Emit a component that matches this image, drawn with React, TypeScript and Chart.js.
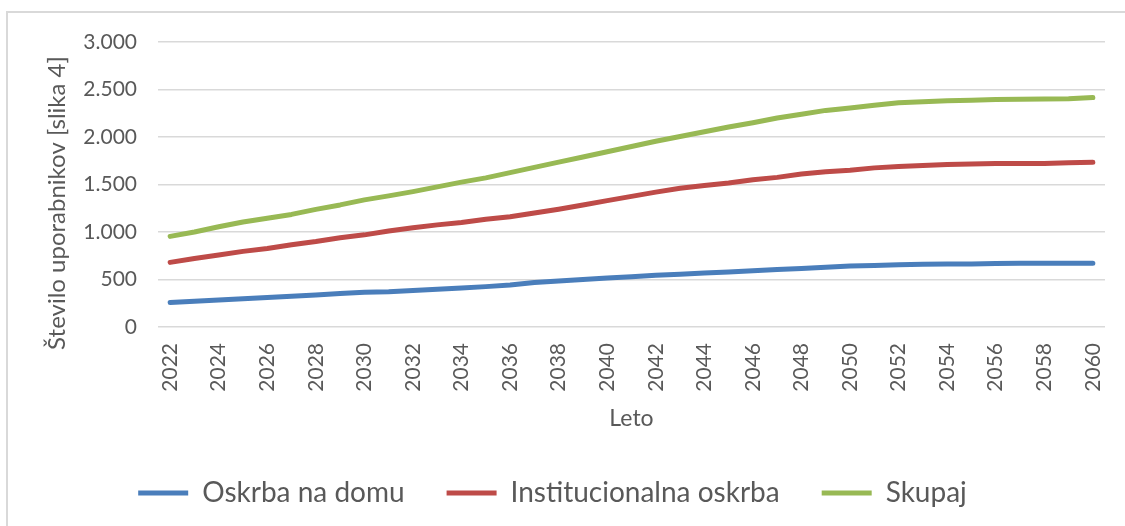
import React, { useEffect, useRef } from 'react';
import { Chart, registerables } from 'chart.js';

Chart.register(...registerables);

const years = [
  '2022', '2023', '2024', '2025', '2026', '2027', '2028', '2029', '2030', '2031',
  '2032', '2033', '2034', '2035', '2036', '2037', '2038', '2039', '2040', '2041',
  '2042', '2043', '2044', '2045', '2046', '2047', '2048', '2049', '2050', '2051',
  '2052', '2053', '2054', '2055', '2056', '2057', '2058', '2059', '2060',
];

const oskrbaNaDomu = [
  258, 272, 285, 298, 310, 324, 338, 352, 365, 372,
  385, 398, 410, 425, 442, 468, 485, 500, 515, 530,
  545, 555, 568, 580, 592, 605, 617, 630, 642, 648,
  656, 660, 662, 664, 668, 670, 670, 670, 670,
];

const institucionalnaOskrba = [
  680, 722, 757, 796, 827, 866, 900, 940, 970, 1010,
  1045, 1075, 1100, 1135, 1160, 1200, 1240, 1285, 1330, 1375,
  1420, 1460, 1490, 1515, 1550, 1575, 1610, 1635, 1650, 1675,
  1690, 1700, 1710, 1715, 1720, 1722, 1722, 1730, 1735,
];

const skupaj = [
  954, 1000, 1055, 1105, 1145, 1185, 1238, 1285, 1338, 1380,
  1425, 1475, 1525, 1570, 1625, 1680, 1735, 1790, 1845, 1900,
  1955, 2005, 2055, 2105, 2150, 2200, 2240, 2280, 2305, 2335,
  2360, 2372, 2382, 2388, 2395, 2398, 2400, 2402, 2415,
];

const yTickLabels = ['0', '500', '1.000', '1.500', '2.000', '2.500', '3.000'];
const yTitle = 'Število uporabnikov [slika 4]';

const FONT = 'Lato, "Open Sans", sans-serif';
const TEXT = '#595959';

const yTitlePlugin = {
  id: 'yTitlePlugin',
  afterDraw(chart: any) {
    const ctx = chart.ctx;
    ctx.save();
    ctx.translate(57, 203);
    ctx.rotate(-Math.PI / 2);
    ctx.font = `normal 24px ${FONT}`;
    ctx.fillStyle = TEXT;
    ctx.textAlign = 'center';
    ctx.textBaseline = 'middle';
    ctx.fillText(yTitle, 0, 0);
    ctx.restore();
  },
};

export default function App() {
  const ref = useRef<HTMLCanvasElement>(null);

  useEffect(() => {
    const canvas = ref.current;
    if (!canvas) return;
    const mk = (label: string, data: number[], color: string) => ({
      label,
      data,
      borderColor: color,
      backgroundColor: color,
      borderWidth: 5,
      pointRadius: 0,
      pointHoverRadius: 0,
      borderCapStyle: 'round' as const,
      borderJoinStyle: 'round' as const,
      tension: 0,
      fill: false,
    });
    const chart = new Chart(canvas, {
      type: 'line',
      data: {
        labels: years,
        datasets: [
          mk('Oskrba na domu', oskrbaNaDomu, '#4A7EBB'),
          mk('Institucionalna oskrba', institucionalnaOskrba, '#BE4B48'),
          mk('Skupaj', skupaj, '#98B954'),
        ],
      },
      options: {
        responsive: false,
        animation: false,
        layout: { padding: { left: 0, top: 42, right: 20, bottom: 9 } },
        plugins: {
          legend: {
            position: 'bottom',
            labels: {
              usePointStyle: true,
              pointStyle: 'line',
              pointStyleWidth: 50,
              padding: 42,
              color: TEXT,
              font: { family: FONT, size: 28 },
            },
          },
          tooltip: { enabled: false },
        },
        scales: {
          x: {
            type: 'category',
            offset: true,
            grid: { display: false, drawTicks: false },
            border: { display: false },
            ticks: {
              autoSkip: false,
              maxRotation: 90,
              minRotation: 90,
              padding: 16,
              color: TEXT,
              font: { family: FONT, size: 21 },
              callback: (_v: any, i: number) => (i % 2 === 0 ? years[i] : ''),
            },
            title: {
              display: true,
              text: 'Leto',
              color: TEXT,
              font: { family: FONT, size: 23 },
              padding: { top: 0, bottom: 5 },
            },
            afterFit: (s: any) => {
              s.height = 110;
              s.paddingLeft = 0;
              s.paddingRight = 0;
            },
          },
          y: {
            min: 0,
            max: 3000,
            ticks: {
              stepSize: 500,
              padding: 21,
              color: TEXT,
              font: { family: FONT, size: 21 },
              callback: (_v: any, i: number) => yTickLabels[i],
            },
            grid: { color: '#D9D9D9', lineWidth: 1.5, drawTicks: false },
            border: { display: false },
            title: { display: false },
            afterFit: (s: any) => {
              s.width = 158;
            },
          },
        },
      },
      plugins: [yTitlePlugin],
    });
    return () => chart.destroy();
  }, []);

  return (
    <div style={{ position: 'fixed', left: 0, top: 0, width: 1125, height: 526, background: '#fff', overflow: 'hidden' }}>
      <div
        style={{
          position: 'absolute',
          left: 6,
          top: 11,
          width: 1200,
          height: 700,
          borderTop: '2px solid #D9D9D9',
          borderLeft: '2px solid #D9D9D9',
        }}
      />
      <canvas ref={ref} width={1125} height={526} style={{ position: 'absolute', left: 0, top: 0 }} />
    </div>
  );
}
